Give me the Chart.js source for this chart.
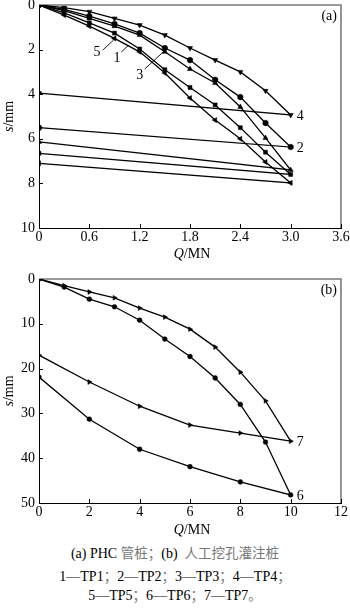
<!DOCTYPE html>
<html><head><meta charset="utf-8">
<script src="https://cdn.jsdelivr.net/npm/chart.js@4.4.1/dist/chart.umd.min.js"></script>
<style>
html,body{margin:0;padding:0;background:#fff;}
body{width:350px;height:610px;position:relative;overflow:hidden;}
#ca{position:absolute;left:0;top:0;}
#cb{position:absolute;left:0;top:262px;}
.cap{position:absolute;left:0;width:350px;text-align:center;font-family:"Liberation Serif","Times New Roman",Times,"DejaVu Serif",serif;font-size:14px;line-height:16px;color:#000;white-space:pre;}
.cap .z{font-family:"Noto Sans CJK SC",sans-serif;color:#777;font-size:13.5px;}
</style></head>
<body>
<canvas id="ca" width="350" height="262"></canvas>
<canvas id="cb" width="350" height="278"></canvas>
<div class="cap" style="top:544px">(a) PHC <span class="z">管桩；</span>(b)  <span class="z">人工挖孔灌注桩</span></div>
<div class="cap" style="top:567px">1—TP1<span class="z">；</span>2—TP2<span class="z">；</span>3—TP3<span class="z">；</span>4—TP4<span class="z">；</span></div>
<div class="cap" style="top:586px">5—TP5<span class="z">；</span>6—TP6<span class="z">；</span>7—TP7<span class="z">。</span></div>
<script>
// ---- Panel (a): PHC pipe piles ----
const qLoadA = [0, 0.3, 0.6, 0.9, 1.2, 1.5, 1.8, 2.1, 2.4, 2.7, 3.0];
const qUnloadA = [0];
const s1LoadA = [0, 0.35, 0.8, 1.26, 1.97, 2.9, 3.7, 4.48, 5.5, 6.6, 7.6];
const s1UnloadA = [6.65];
const s2LoadA = [0, 0.2, 0.5, 0.85, 1.26, 1.93, 2.47, 3.35, 4.13, 5.29, 6.37];
const s2UnloadA = [5.5];
const s3LoadA = [0, 0.25, 0.6, 0.95, 1.35, 2.1, 2.87, 3.5, 4.57, 5.96, 7.4];
const s3UnloadA = [6.14];
const s4LoadA = [0, 0.12, 0.3, 0.6, 0.9, 1.35, 1.93, 2.47, 3.0, 3.85, 4.93];
const s4UnloadA = [3.95];
const s5LoadA = [0, 0.45, 0.95, 1.5, 2.1, 3.05, 4.17, 5.16, 6.0, 7.04, 7.98];
const s5UnloadA = [7.1];
const xTicksA = [0, 0.6, 1.2, 1.8, 2.4, 3.0, 3.6];
const yTicksA = [0, 2, 4, 6, 8, 10];

// ---- Panel (b): hand-dug bored piles ----
const qLoadB = [0, 1, 2, 3, 4, 5, 6, 7, 8, 9, 10];
const qUnloadB = [8, 6, 4, 2, 0];
const s6LoadB = [0, 1.8, 4.5, 6.2, 9.2, 13.4, 17.3, 22.1, 28.0, 36.4, 48.2];
const s6UnloadB = [45.3, 41.9, 38.0, 31.3, 21.9];
const s7LoadB = [0, 1.5, 2.9, 4.2, 6.5, 8.5, 11.2, 15.2, 20.8, 27.2, 36.2];
const s7UnloadB = [34.4, 32.6, 28.4, 23.0, 17.0];
const xTicksB = [0, 2, 4, 6, 8, 10, 12];
const yTicksB = [0, 10, 20, 30, 40, 50];

const FONT = '"Liberation Serif", "Times New Roman", Times, "DejaVu Serif", serif';
const pts = (qs, ss) => qs.map((q, i) => ({x: q, y: ss[i]}));
function ds(label, qs, ss, style, rot, r) {
  return {label, data: pts(qs, ss), pointStyle: style, rotation: rot || 0,
    pointRadius: r, borderColor: '#000', backgroundColor: '#000',
    pointBackgroundColor: '#000', pointBorderColor: '#000', pointBorderWidth: 0.5,
    borderWidth: 1.3, tension: 0, fill: false};
}

function drawMixed(ctx, parts, cx, cy, size) {
  let w = 0;
  parts.forEach(p => { ctx.font = (p.i ? 'italic ' : '') + size + 'px ' + FONT; p.w = ctx.measureText(p.t).width; w += p.w; });
  let x = cx - w / 2;
  ctx.textBaseline = 'middle'; ctx.textAlign = 'left';
  parts.forEach(p => { ctx.font = (p.i ? 'italic ' : '') + size + 'px ' + FONT; ctx.fillText(p.t, x, cy); x += p.w; });
}

function decor(cfg) {
  return {
    id: 'decor',
    beforeDatasetsDraw(chart) {
      const {ctx, chartArea: a} = chart;
      const xs = chart.scales.x, ys = chart.scales.y;
      ctx.save();
      ctx.strokeStyle = '#7a7a7a'; ctx.lineWidth = 1.6;
      ctx.beginPath(); ctx.moveTo(a.left, a.top); ctx.lineTo(a.right, a.top); ctx.lineTo(a.right, a.bottom); ctx.stroke();
      ctx.strokeStyle = '#000'; ctx.lineWidth = 1;
      ctx.beginPath();
      xs.ticks.forEach(t => { const p = Math.round(xs.getPixelForValue(t.value)) + 0.5; ctx.moveTo(p, a.bottom); ctx.lineTo(p, a.bottom - 4); });
      ys.ticks.forEach(t => { const p = Math.round(ys.getPixelForValue(t.value)) + 0.5; ctx.moveTo(a.left, p); ctx.lineTo(a.left + 4, p); });
      ctx.stroke();
      ctx.restore();
    },
    afterDraw(chart) {
      const {ctx, chartArea: a} = chart;
      const xs = chart.scales.x, ys = chart.scales.y;
      ctx.save();
      ctx.fillStyle = '#000';
      drawMixed(ctx, [{t: 'Q', i: true}, {t: '/MN'}], (a.left + a.right) / 2 + 2, a.bottom + cfg.xTitleOff, 14);
      ctx.save();
      ctx.translate(9, (a.top + a.bottom) / 2);
      ctx.rotate(-Math.PI / 2);
      drawMixed(ctx, [{t: 's', i: true}, {t: '/mm'}], 0, 0, 14);
      ctx.restore();
      ctx.font = '14px ' + FONT;
      ctx.textAlign = 'right'; ctx.textBaseline = 'middle';
      ctx.fillText(cfg.panel, a.right - 4, a.top + 11);
      ctx.textAlign = 'left';
      cfg.ends.forEach(e => {
        const el = chart.getDatasetMeta(e.ds).data[e.idx];
        ctx.fillText(e.t, el.x + 6, el.y + 1);
      });
      ctx.textAlign = 'center';
      ctx.lineWidth = 0.9; ctx.strokeStyle = '#000';
      (cfg.notes || []).forEach(n => {
        ctx.fillText(n.t, xs.getPixelForValue(n.q), ys.getPixelForValue(n.s));
        ctx.beginPath();
        ctx.moveTo(xs.getPixelForValue(n.l[0]), ys.getPixelForValue(n.l[1]));
        ctx.lineTo(xs.getPixelForValue(n.l[2]), ys.getPixelForValue(n.l[3]));
        ctx.stroke();
      });
      ctx.restore();
    }
  };
}

function makeChart(id, datasets, xr, yr, xTicks, yTicks, fmt, xH, pad, cfg) {
  return new Chart(document.getElementById(id), {
    type: 'line',
    data: {datasets},
    options: {
      responsive: false, animation: false, devicePixelRatio: 1,
      layout: {padding: pad},
      plugins: {legend: {display: false}, tooltip: {enabled: false}},
      scales: {
        x: {type: 'linear', min: xr[0], max: xr[1],
          afterBuildTicks: s => { s.ticks = xTicks.map(v => ({value: v})); },
          afterFit: s => { s.height = xH; s.paddingLeft = 0; s.paddingRight = 0; },
          grid: {display: false, drawTicks: false},
          border: {display: true, color: '#000', width: 1},
          ticks: {padding: 1, autoSkip: false, maxRotation: 0, color: '#000',
            font: {family: FONT, size: 14}, callback: v => fmt(v)}},
        y: {type: 'linear', reverse: true, min: yr[0], max: yr[1],
          afterBuildTicks: s => { s.ticks = yTicks.map(v => ({value: v})); },
          afterFit: s => { s.width = 39; s.paddingTop = 0; s.paddingBottom = 0; },
          grid: {display: false, drawTicks: false},
          border: {display: true, color: '#000', width: 1},
          ticks: {padding: 4, autoSkip: false, color: '#000',
            font: {family: FONT, size: 14}, callback: v => String(v)}}
      }
    },
    plugins: [decor(cfg)]
  });
}

const qA = qLoadA.concat(qUnloadA);
makeChart('ca', [
  ds('TP1', qA, s1LoadA.concat(s1UnloadA), 'rect', 0, 2.8),
  ds('TP2', qA, s2LoadA.concat(s2UnloadA), 'circle', 0, 2.8),
  ds('TP3', qA, s3LoadA.concat(s3UnloadA), 'triangle', 0, 3),
  ds('TP4', qA, s4LoadA.concat(s4UnloadA), 'triangle', 180, 3),
  ds('TP5', qA, s5LoadA.concat(s5UnloadA), 'triangle', 270, 3)
], [0, 3.6], [0, 10], xTicksA, yTicksA, v => v === 0 ? '0' : v.toFixed(1), 34,
  {top: 5, right: 9, left: 0, bottom: 0},
  {panel: '(a)', xTitleOff: 26,
   ends: [{t: '4', ds: 3, idx: qLoadA.length - 1}, {t: '2', ds: 1, idx: qLoadA.length - 1}],
   notes: [
     {t: '5', q: 0.69, s: 2.13, l: [0.76, 2.02, 0.89, 1.57]},
     {t: '1', q: 0.93, s: 2.4, l: [0.98, 2.11, 1.07, 1.8]},
     {t: '3', q: 1.2, s: 3.16, l: [1.26, 2.87, 1.48, 2.11]}
   ]});

const qB = qLoadB.concat(qUnloadB);
makeChart('cb', [
  ds('TP6', qB, s6LoadB.concat(s6UnloadB), 'circle', 0, 2.4),
  ds('TP7', qB, s7LoadB.concat(s7UnloadB), 'triangle', 90, 2.8)
], [0, 12], [0, 50], xTicksB, yTicksB, v => String(v), 37,
  {top: 17, right: 9, left: 0, bottom: 0},
  {panel: '(b)', xTitleOff: 27,
   ends: [{t: '7', ds: 1, idx: qLoadB.length - 1}, {t: '6', ds: 0, idx: qLoadB.length - 1}]});
</script>
</body></html>
